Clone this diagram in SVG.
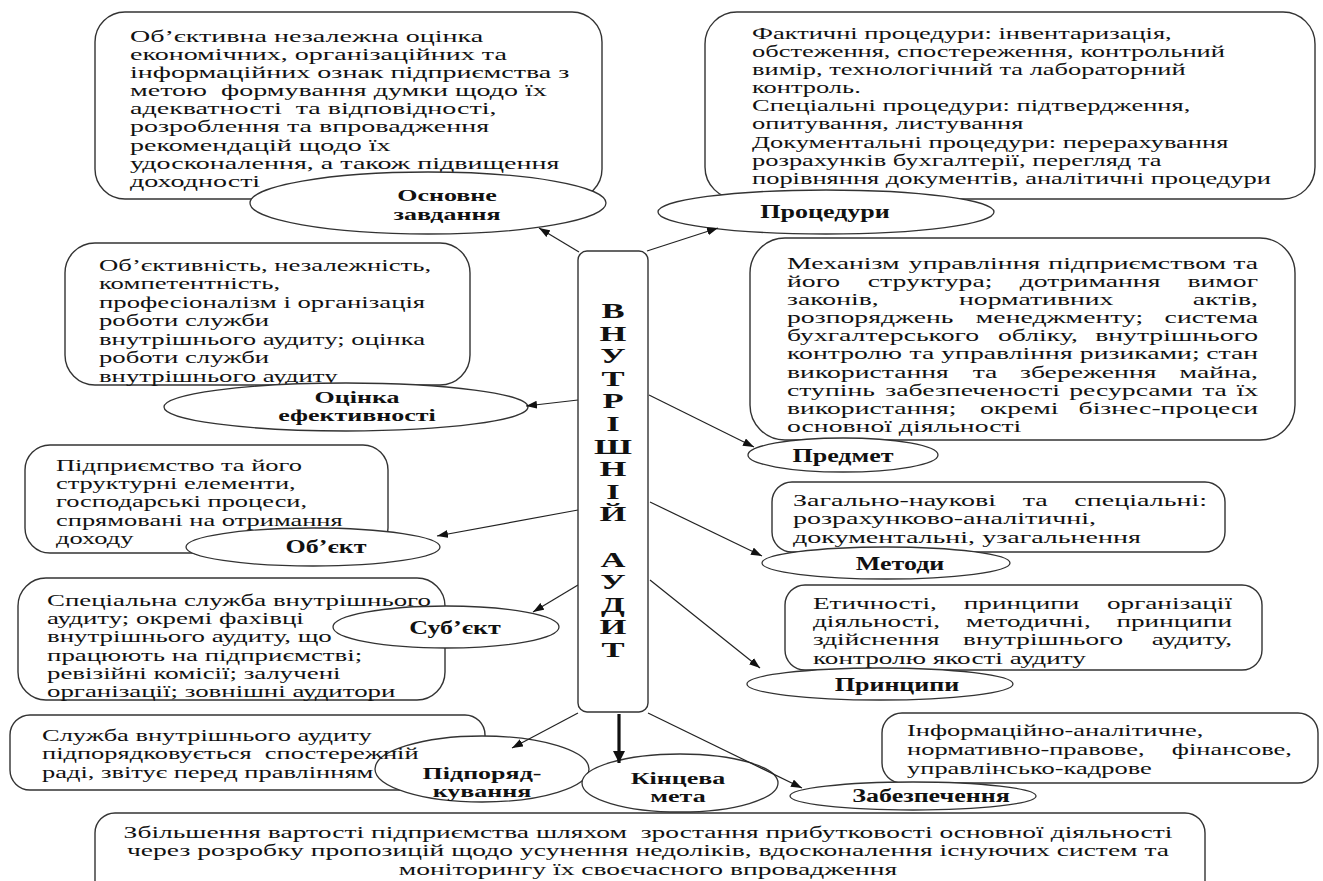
<svg xmlns="http://www.w3.org/2000/svg" width="1323" height="881" viewBox="0 0 1323 881">
<defs>
<style>
.box{fill:#fff;stroke:#333;stroke-width:1.4}
.ell{fill:#fff;stroke:#333;stroke-width:1.3}
.t{font-family:"Liberation Serif","Times New Roman",serif;font-size:16.3px;fill:#111}
.b{font-family:"Liberation Serif","Times New Roman",serif;font-size:19px;font-weight:bold;fill:#111;text-anchor:middle}
.b2{font-family:"Liberation Serif","Times New Roman",serif;font-size:16.7px;font-weight:bold;fill:#111;text-anchor:middle}
.v{font-family:"Liberation Serif","Times New Roman",serif;font-size:20px;font-weight:bold;fill:#111;text-anchor:middle}
.m{text-anchor:middle}
.e{text-anchor:end}
.conn{stroke:#222;stroke-width:1.2;fill:none;marker-end:url(#ah)}
.thick{stroke:#111;stroke-width:3.2;fill:none;marker-end:url(#ahb)}
</style>
<marker id="ah" markerUnits="userSpaceOnUse" markerWidth="11" markerHeight="8" refX="11" refY="4" orient="auto"><path d="M0,0 L11,4 L0,8 z" fill="#111"/></marker>
<marker id="ahb" markerUnits="userSpaceOnUse" markerWidth="12" markerHeight="12" refX="12" refY="6" orient="auto"><path d="M0,0 L12,6 L0,12 z" fill="#111"/></marker>
</defs>
<rect width="1323" height="881" fill="#fff"/>

<g id="node-osnovne">
<rect class="box" x="95" y="12" width="507" height="187" rx="30"/>
<g transform="translate(130,0) scale(1.72,1)">
<text class="t" x="0" y="42">Об’єктивна незалежна оцінка</text>
<text class="t" x="0" y="60.1">економічних, організаційних та</text>
<text class="t" x="0" y="78.2">інформаційних ознак підприємства з</text>
<text class="t" x="0" y="96.3">метою&#160; формування думки щодо їх</text>
<text class="t" x="0" y="114.4">адекватності&#160; та відповідності,</text>
<text class="t" x="0" y="132.5">розроблення та впровадження</text>
<text class="t" x="0" y="150.6">рекомендацій щодо їх</text>
<text class="t" x="0" y="168.7">удосконалення, а також підвищення</text>
<text class="t" x="0" y="186.8">доходності</text>
</g>
<ellipse class="ell" cx="428" cy="203" rx="178" ry="31"/>
<g transform="translate(447,0) scale(1.557,1)">
<text class="b2" x="0" y="201.5">Основне</text>
<text class="b2" x="0" y="220">завдання</text>
</g>
</g>

<g id="node-protsedury">
<rect class="box" x="705" y="12" width="610" height="187" rx="32"/>
<g transform="translate(752,0) scale(1.623,1)">
<text class="t" x="0" y="39">Фактичні процедури: інвентаризація,</text>
<text class="t" x="0" y="57.1">обстеження, спостереження, контрольний</text>
<text class="t" x="0" y="75.2">вимір, технологічний та лабораторний</text>
<text class="t" x="0" y="93.3">контроль.</text>
<text class="t" x="0" y="111.4">Спеціальні процедури: підтвердження,</text>
<text class="t" x="0" y="129.5">опитування, листування</text>
<text class="t" x="0" y="147.6">Документальні процедури: перерахування</text>
<text class="t" x="0" y="165.7">розрахунків бухгалтерії, перегляд та</text>
<text class="t" x="0" y="183.8">порівняння документів, аналітичні процедури</text>
</g>
<ellipse class="ell" cx="826" cy="212" rx="168" ry="22"/>
<g transform="translate(825,0) scale(1.37,1)">
<text class="b" x="0" y="218">Процедури</text>
</g>
</g>

<g id="node-otsinka">
<rect class="box" x="65" y="243" width="405" height="142" rx="30"/>
<g transform="translate(99,0) scale(1.64,1)">
<text class="t" x="0" y="271">Об’єктивність, незалежність,</text>
<text class="t" x="0" y="289.5">компетентність,</text>
<text class="t" x="0" y="308">професіоналізм і організація</text>
<text class="t" x="0" y="326.5">роботи служби</text>
<text class="t" x="0" y="345">внутрішнього аудиту; оцінка</text>
<text class="t" x="0" y="363.5">роботи служби</text>
<text class="t" x="0" y="382">внутрішнього аудиту</text>
</g>
<ellipse class="ell" cx="346" cy="407" rx="182" ry="24"/>
<g transform="translate(357,0) scale(1.557,1)">
<text class="b2" x="0" y="403">Оцінка</text>
<text class="b2" x="0" y="421.5">ефективності</text>
</g>
</g>

<g id="node-predmet">
<rect class="box" x="750" y="238" width="545" height="202" rx="35"/>
<g transform="translate(787,0) scale(1.7,1)">
<text class="t" x="0" y="269">Механізм</text><text class="t m" x="110.3" y="269">управління</text><text class="t m" x="206" y="269">підприємством</text><text class="t e" x="277.1" y="269">та</text>
<text class="t" x="0" y="287.1">його</text><text class="t m" x="84.2" y="287.1">структура;</text><text class="t m" x="178.3" y="287.1">дотримання</text><text class="t e" x="277.1" y="287.1">вимог</text>
<text class="t" x="0" y="305.2">законів,</text><text class="t m" x="146.6" y="305.2">нормативних</text><text class="t e" x="277.1" y="305.2">актів,</text>
<text class="t" x="0" y="323.3">розпоряджень</text><text class="t m" x="160.3" y="323.3">менеджменту;</text><text class="t e" x="277.1" y="323.3">система</text>
<text class="t" x="0" y="341.4">бухгалтерського</text><text class="t m" x="147.6" y="341.4">обліку,</text><text class="t e" x="277.1" y="341.4">внутрішнього</text>
<text class="t" x="0" y="359.5">контролю</text><text class="t m" x="79.4" y="359.5">та</text><text class="t m" x="129.4" y="359.5">управління</text><text class="t m" x="207.5" y="359.5">ризиками;</text><text class="t e" x="277.1" y="359.5">стан</text>
<text class="t" x="0" y="377.6">використання</text><text class="t m" x="116.5" y="377.6">та</text><text class="t m" x="177.2" y="377.6">збереження</text><text class="t e" x="277.1" y="377.6">майна,</text>
<text class="t" x="0" y="395.7">ступінь</text><text class="t m" x="109.2" y="395.7">забезпеченості</text><text class="t m" x="202.4" y="395.7">ресурсами</text><text class="t m" x="251.5" y="395.7">та</text><text class="t e" x="277.1" y="395.7">їх</text>
<text class="t" x="0" y="413.8">використання;</text><text class="t m" x="136.6" y="413.8">окремі</text><text class="t e" x="277.1" y="413.8">бізнес-процеси</text>
<text class="t" x="0" y="431.9">основної діяльності</text>
</g>
<ellipse class="ell" cx="843" cy="455" rx="95" ry="17"/>
<g transform="translate(843,0) scale(1.37,1)">
<text class="b" x="0" y="462">Предмет</text>
</g>
</g>

<g id="node-obiekt">
<rect class="box" x="25" y="445" width="363" height="108" rx="25"/>
<g transform="translate(56,0) scale(1.623,1)">
<text class="t" x="0" y="471">Підприємство та його</text>
<text class="t" x="0" y="489.2">структурні елементи,</text>
<text class="t" x="0" y="507.4">господарські процеси,</text>
<text class="t" x="0" y="525.6">спрямовані на отримання</text>
<text class="t" x="0" y="543.8">доходу</text>
</g>
<ellipse class="ell" cx="313" cy="547" rx="127" ry="19"/>
<g transform="translate(326,0) scale(1.37,1)">
<text class="b" x="0" y="553">Об’єкт</text>
</g>
</g>

<g id="node-metody">
<rect class="box" x="772" y="482" width="453" height="70" rx="20"/>
<g transform="translate(793,0) scale(1.72,1)">
<text class="t" x="0" y="506">Загально-наукові</text><text class="t m" x="140.8" y="506">та</text><text class="t e" x="240.7" y="506">спеціальні:</text>
<text class="t" x="0" y="524.5">розрахунково-аналітичні,</text>
<text class="t" x="0" y="543">документальні, узагальнення</text>
</g>
<ellipse class="ell" cx="886" cy="563" rx="124" ry="16"/>
<g transform="translate(900,0) scale(1.37,1)">
<text class="b" x="0" y="570">Методи</text>
</g>
</g>

<g id="node-subiekt">
<rect class="box" x="18" y="578" width="427" height="122" rx="28"/>
<g transform="translate(47,0) scale(1.65,1)">
<text class="t" x="0" y="606">Спеціальна служба внутрішнього</text>
<text class="t" x="0" y="624.2">аудиту; окремі фахівці</text>
<text class="t" x="0" y="642.4">внутрішнього аудиту, що</text>
<text class="t" x="0" y="660.6">працюють на підприємстві;</text>
<text class="t" x="0" y="678.8">ревізійні комісії; залучені</text>
<text class="t" x="0" y="697">організації; зовнішні аудитори</text>
</g>
<ellipse class="ell" cx="446" cy="627" rx="113" ry="21"/>
<g transform="translate(455,0) scale(1.37,1)">
<text class="b" x="0" y="634">Суб’єкт</text>
</g>
</g>

<g id="node-pryntsypy">
<rect class="box" x="785" y="585" width="477" height="85" rx="20"/>
<g transform="translate(813,0) scale(1.67,1)">
<text class="t" x="0" y="609">Етичності,</text><text class="t m" x="124.9" y="609">принципи</text><text class="t e" x="250.9" y="609">організації</text>
<text class="t" x="0" y="627.2">діяльності,</text><text class="t m" x="129" y="627.2">методичні,</text><text class="t e" x="250.9" y="627.2">принципи</text>
<text class="t" x="0" y="645.4">здійснення</text><text class="t m" x="137.8" y="645.4">внутрішнього</text><text class="t e" x="250.9" y="645.4">аудиту,</text>
<text class="t" x="0" y="663.6">контролю якості аудиту</text>
</g>
<ellipse class="ell" cx="880" cy="684" rx="133" ry="16"/>
<g transform="translate(897,0) scale(1.37,1)">
<text class="b" x="0" y="691">Принципи</text>
</g>
</g>

<g id="node-pidporiadkuvannia">
<rect class="box" x="10" y="715" width="475" height="75" rx="20"/>
<ellipse class="ell" cx="482" cy="769" rx="107" ry="33"/>
<g transform="translate(42,0) scale(1.623,1)">
<text class="t" x="0" y="741">Служба внутрішнього аудиту</text>
<text class="t" x="0" y="759.5">підпорядковується&#160; спостережній</text>
<text class="t" x="0" y="778">раді, звітує перед правлінням</text>
</g>
<g transform="translate(482,0) scale(1.557,1)">
<text class="b2" x="0" y="779">Підпоряд-</text>
<text class="b2" x="0" y="797.5">кування</text>
</g>
</g>

<g id="node-zabezpechennia">
<rect class="box" x="882" y="713" width="436" height="70" rx="20"/>
<g transform="translate(907,0) scale(1.623,1)">
<text class="t" x="0" y="736">Інформаційно-аналітичне,</text>
<text class="t" x="0" y="755">нормативно-правове,</text><text class="t e" x="237.2" y="755">фінансове,</text>
<text class="t" x="0" y="774">управлінсько-кадрове</text>
</g>
<ellipse class="ell" cx="913" cy="796" rx="123" ry="14"/>
<g transform="translate(931,0) scale(1.37,1)">
<text class="b" x="0" y="802">Забезпечення</text>
</g>
</g>

<g id="node-meta-text">
<rect class="box" x="95" y="813" width="1110" height="100" rx="20"/>
<g transform="translate(648,0) scale(1.69,1)">
<text class="t m" x="0" y="838">Збільшення вартості підприємства шляхом&#160; зростання прибутковості основної діяльності</text>
<text class="t m" x="0" y="856.5">через розробку пропозицій щодо усунення недоліків, вдосконалення існуючих систем та</text>
<text class="t m" x="0" y="875">моніторингу їх своєчасного впровадження</text>
</g>
</g>

<g id="node-kintseva">
<ellipse class="ell" cx="680" cy="783" rx="98" ry="29"/>
<g transform="translate(678,0) scale(1.557,1)">
<text class="b2" x="0" y="784">Кінцева</text>
<text class="b2" x="0" y="802.5">мета</text>
</g>
</g>

<g id="connectors">
<line class="conn" x1="579" y1="252" x2="539" y2="228"/>
<line class="conn" x1="647" y1="251" x2="718" y2="228"/>
<line class="conn" x1="578" y1="400" x2="526" y2="406"/>
<line class="conn" x1="649" y1="395" x2="754" y2="447"/>
<line class="conn" x1="578" y1="510" x2="437" y2="536"/>
<line class="conn" x1="650" y1="502" x2="762" y2="556"/>
<line class="conn" x1="578" y1="585" x2="533" y2="612"/>
<line class="conn" x1="650" y1="580" x2="760" y2="668"/>
<line class="conn" x1="578" y1="713" x2="512" y2="748"/>
<line class="thick" x1="619" y1="714" x2="619" y2="763"/>
<line class="conn" x1="648" y1="713" x2="802" y2="788"/>
</g>

<g id="node-vnutrishnii-audyt">
<rect class="box" x="578" y="251" width="70" height="461" rx="9"/>
<g transform="translate(613,0) scale(1.73,1)">
<text class="v" x="0" y="318">В</text>
<text class="v" x="0" y="340.6">Н</text>
<text class="v" x="0" y="363.2">У</text>
<text class="v" x="0" y="385.8">Т</text>
<text class="v" x="0" y="408.4">Р</text>
<text class="v" x="0" y="431">І</text>
<text class="v" x="0" y="453.6">Ш</text>
<text class="v" x="0" y="476.2">Н</text>
<text class="v" x="0" y="498.8">І</text>
<text class="v" x="0" y="521.4">Й</text>
<text class="v" x="0" y="566.6">А</text>
<text class="v" x="0" y="589.2">У</text>
<text class="v" x="0" y="611.8">Д</text>
<text class="v" x="0" y="634.4">И</text>
<text class="v" x="0" y="657">Т</text>
</g>
</g>
</svg>
